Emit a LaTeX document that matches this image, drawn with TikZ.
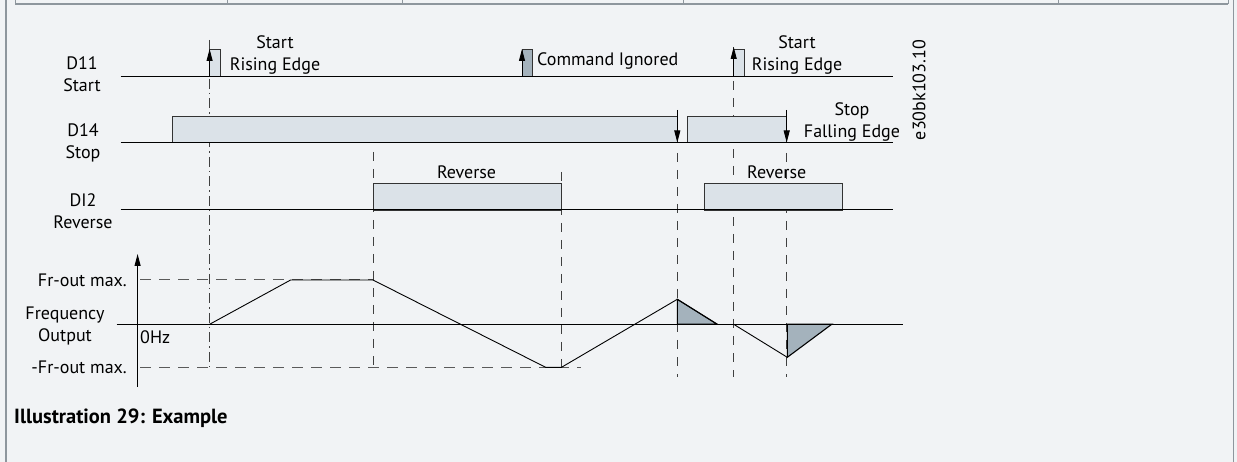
\documentclass[tikz,border=0pt]{standalone}
\usepackage{fontspec}
\setmainfont{PT Sans}
\usepackage{tikz}
\usetikzlibrary{arrows.meta}
\definecolor{pagebg}{HTML}{F1F3F5}
\definecolor{pulsefill}{HTML}{DBE2E8}
\definecolor{shadefill}{HTML}{A4B2BC}
\definecolor{framegray}{HTML}{8E969D}
\definecolor{guidegray}{HTML}{5A5A5A}

\begin{document}
\begin{tikzpicture}[x=1pt,y=-1pt,
    every node/.style={font=\fontsize{18}{22}\selectfont,inner sep=0pt},
    pulsebox/.style={draw=black!80,fill=pulsefill,line width=0.9pt},
    shadebox/.style={draw=black,fill=shadefill,line width=1.1pt},
    sigline/.style={line width=1pt},
    guide/.style={black!75,line width=0.9pt,dash pattern=on 9pt off 8pt},
    maxline/.style={guidegray,line width=1pt,dash pattern=on 11pt off 8pt},
    edgearrow/.style={line width=0.9pt,-{Triangle[length=12pt,width=6pt]}}]
    \fill[pagebg] (0,0) rectangle (1237,462);
    \useasboundingbox (0,0) rectangle (1237,462);

    \draw[framegray,line width=1.5pt] (6,0) -- (6,462);
    \draw[framegray,line width=1.5pt] (1233.5,0) -- (1233.5,462);
    \draw[framegray,line width=1.5pt] (15,4) -- (1228,4);
    \foreach \x in {15,227,402,683,1058,1228}
        \draw[framegray,line width=1pt] (\x,0) -- (\x,4);

    \draw[guide,dash pattern=on 10pt off 4pt on 1.5pt off 4pt] 
        (209.6,40) -- (209.6,367.3);
    \foreach \x/\ya/\yb in {373/152/367.3,561.5/172/367.3,677.3/153/376.7,
        733.7/47/376.7,786.7/153/376.7}
        \draw[guide] (\x,\ya) -- (\x,\yb);
    \draw[maxline] (140,280) -- (373,280);
    \draw[maxline] (140,367.3) -- (581,367.3);

    \draw[pulsebox] (209.6,76.7) rectangle (220.6,49);
    \draw[pulsebox,fill=shadefill] (522,76.7) rectangle (532,49);
    \draw[pulsebox] (733.7,76.7) rectangle (744,49);
    \draw[pulsebox] (172.8,142.5) rectangle (677.3,116.5);
    \draw[pulsebox] (687.3,142.5) rectangle (786.7,116.5);
    \draw[pulsebox] (373,210) rectangle (561.5,183.3);
    \draw[pulsebox] (704.4,210) rectangle (842.5,183.3);

    \draw[sigline] (120.6,76.7) -- (892.5,76.7);
    \draw[sigline] (120.6,142.5) -- (892.5,142.5);
    \draw[sigline] (120.6,210) -- (892.5,210);
    \draw[sigline] (116.6,324.3) -- (902.7,324.3);

    \draw[edgearrow] (209.6,76.7) -- (209.6,49);
    \draw[edgearrow] (522,76.7) -- (522,49);
    \draw[edgearrow] (733.7,76.7) -- (733.7,47);
    \draw[edgearrow] (677.3,110) -- (677.3,142.5);
    \draw[edgearrow] (786.7,110) -- (786.7,142.5);
    \draw[edgearrow] (137.6,386.7) -- (137.6,254);

    \filldraw[shadebox] (677.3,299.3) -- (677.3,324.3) -- (717.3,324.3) -- cycle;
    \filldraw[shadebox] (787.3,324.3) -- (787.3,357.3) -- (831.7,324.3) -- cycle;
    \draw[line width=0.9pt] (209.6,324.3) -- (290.6,280) -- (373,280) 
        -- (545.6,367.3) -- (561.5,367.3) -- (677.3,299.3) -- (717.3,324.3);
    \draw[line width=1.4pt] (717.3,324.3) -- (733.7,324.3);
    \draw[line width=0.9pt] (733.7,324.3) -- (787.3,357.3);

    \node[align=center] (d11) at (82,74.5) {D11\\Start};
    \node[align=center] (d14) at (83,142.5) {D14\\Stop};
    \node[align=center] (di2) at (83,211) {DI2\\Reverse};
    \node[align=center] (freq) at (65,325.7) {Frequency\\Output};
    \node[anchor=east] (frmax) at (127,280) {Fr-out max.};
    \node[anchor=east] (frmin) at (127,367.3) {-Fr-out max.};
    \node[anchor=west] (zerohz) at (140,337.3) {0Hz};
    \node[align=center] (start1) at (275,55) {Start\\Rising Edge};
    \node[align=center] (start2) at (797,55) {Start\\Rising Edge};
    \node[align=center] (stop2) at (852,122) {Stop\\Falling Edge};
    \node[anchor=west] (ignored) at (537,61) {Command Ignored};
    \node (rev1) at (466.6,172) {Reverse};
    \node (rev2) at (776.7,172) {Reverse};
    \node[rotate=90] (code) at (919,90) {e30bk103.10};
    \node[anchor=west,font=\bfseries\fontsize{20.5}{24}\selectfont] (caption) 
        at (14,418.3) {Illustration 29: Example};
\end{tikzpicture}
\end{document}
